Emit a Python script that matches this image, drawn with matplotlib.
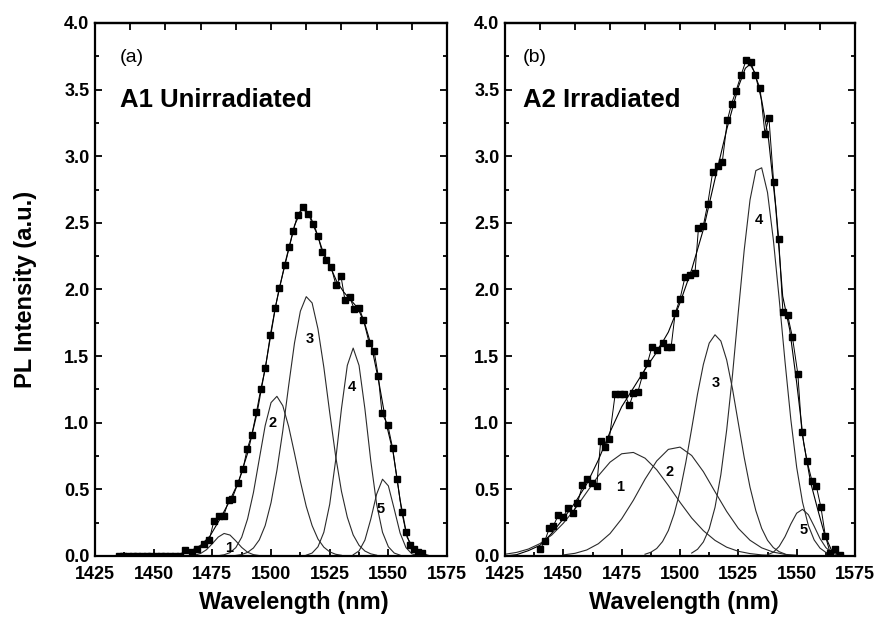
import numpy as np
import matplotlib
matplotlib.use("Agg")
import matplotlib.pyplot as plt
from matplotlib.ticker import MultipleLocator, FormatStrFormatter

plt.rcParams['font.family'] = ['Liberation Sans', 'DejaVu Sans']
plt.rcParams['font.weight'] = 'bold'

# ---------------- panel (a): A1 unirradiated ----------------
wl_a = [1435, 1437, 1439, 1441, 1443, 1445, 1447, 1449, 1451, 1453, 1455, 1457, 1459, 1461,
        1463.3, 1466.2, 1468.3, 1471.6, 1473.7, 1475.6, 1478.0, 1479.8, 1482.0, 1483.4,
        1486.0, 1488.0, 1489.8, 1491.8, 1493.8, 1495.6, 1497.6, 1499.7, 1501.8, 1503.5,
        1505.9, 1507.8, 1509.5, 1511.3, 1513.8, 1515.9, 1517.7, 1520.0, 1521.8, 1523.5,
        1525.6, 1527.7, 1529.8, 1531.5, 1533.6, 1535.5, 1537.6, 1539.4, 1541.8, 1543.9,
        1545.7, 1547.3, 1549.8, 1551.8, 1553.7, 1555.7, 1557.5, 1559.3, 1561.0, 1562.5, 1564.5]
pl_a = [0, 0, 0, 0, 0, 0, 0, 0, 0, 0, 0, 0, 0, 0,
        0.045, 0.03, 0.05, 0.09, 0.12, 0.26, 0.30, 0.30, 0.42, 0.43,
        0.55, 0.65, 0.80, 0.91, 1.08, 1.25, 1.41, 1.66, 1.86, 2.01,
        2.18, 2.32, 2.44, 2.56, 2.62, 2.57, 2.49, 2.40, 2.28, 2.22,
        2.17, 2.03, 2.10, 1.92, 1.94, 1.85, 1.86, 1.77, 1.60, 1.54,
        1.35, 1.07, 0.98, 0.81, 0.58, 0.33, 0.18, 0.08, 0.05, 0.03, 0.02]

fit_wl_a = [1425, 1455, 1462, 1466, 1470, 1474, 1478, 1482, 1486, 1490, 1494, 1498, 1502,
            1506, 1510, 1513, 1516, 1519, 1522, 1525, 1528, 1531, 1534, 1537, 1540, 1543,
            1546, 1549, 1552, 1555, 1558, 1561, 1564, 1568, 1575]
fit_a = [0, 0, 0.02, 0.04, 0.08, 0.15, 0.27, 0.40, 0.55, 0.77, 1.07, 1.46, 1.88,
         2.20, 2.48, 2.60, 2.58, 2.45, 2.29, 2.18, 2.06, 1.98, 1.92, 1.86, 1.74, 1.56,
         1.30, 1.00, 0.78, 0.42, 0.14, 0.05, 0.02, 0.0, 0.0]

# fitted components, values every `step` nm starting at `start`
comp_a1 = [0.0, 0.006, 0.019, 0.047, 0.093, 0.142, 0.169, 0.157, 0.113, 0.064, 0.028, 0.010, 0.003, 0.0]
comp_a2 = [0.002, 0.009, 0.025, 0.063, 0.141, 0.278, 0.476, 0.728, 0.978, 1.151, 1.198,
           1.128, 0.972, 0.77, 0.56, 0.372, 0.228, 0.127, 0.066, 0.031, 0.013, 0.005]
comp_a3 = [0.004, 0.011, 0.027, 0.06, 0.121, 0.228, 0.40, 0.642, 0.938, 1.277, 1.599, 1.837,
           1.946, 1.899, 1.704, 1.416, 1.076, 0.753, 0.486, 0.291, 0.158, 0.08, 0.037, 0.016, 0.006]
comp_a4 = [0.006, 0.022, 0.069, 0.178, 0.388, 0.714, 1.104, 1.43, 1.56, 1.43, 1.104, 0.714,
           0.388, 0.178, 0.069, 0.022, 0.006]
comp_a5 = [0.009, 0.038, 0.119, 0.276, 0.464, 0.576, 0.526, 0.352, 0.172, 0.063, 0.016, 0.003]
comps_a = [(1465, 2.5, comp_a1), (1477.5, 2.5, comp_a2), (1485, 2.5, comp_a3),
           (1515, 2.5, comp_a4), (1535, 2.5, comp_a5)]
lab_x_a = [1482.1, 1500.5, 1516.3, 1534.3, 1546.7]
lab_y_a = [0.06, 1.0, 1.63, 1.27, 0.35]

# ---------------- panel (b): A2 irradiated ----------------
wl_b = [1440.0, 1442.1, 1444.0, 1445.7, 1447.9, 1450.0, 1452.1, 1454.0, 1456.0, 1458.2,
        1460.3, 1462.3, 1464.3, 1466.0, 1467.9, 1469.7, 1472.2, 1474.3, 1476.2, 1478.3,
        1480.0, 1481.9, 1484.0, 1486.0, 1487.9, 1490.0, 1492.5, 1494.3, 1496.2, 1497.9,
        1500.0, 1502.1, 1504.3, 1506.4, 1507.9, 1510.0, 1511.9, 1514.0, 1516.2, 1518.1,
        1520.3, 1522.1, 1524.0, 1526.2, 1528.3, 1530.4, 1532.1, 1534.3, 1536.4, 1538.1,
        1540.1, 1542.3, 1544.1, 1546.1, 1548.2, 1550.5, 1552.2, 1554.4, 1556.6, 1558.4,
        1560.4, 1562.3, 1564.3, 1566.4, 1568.6]
pl_b = [0.05, 0.115, 0.21, 0.225, 0.31, 0.295, 0.36, 0.32, 0.395, 0.53,
        0.58, 0.545, 0.525, 0.86, 0.82, 0.88, 1.215, 1.215, 1.215, 1.13,
        1.22, 1.23, 1.36, 1.445, 1.565, 1.545, 1.60, 1.57, 1.57, 1.82,
        1.93, 2.09, 2.105, 2.12, 2.46, 2.48, 2.645, 2.88, 2.925, 2.955,
        3.27, 3.395, 3.49, 3.61, 3.72, 3.705, 3.61, 3.51, 3.17, 3.29,
        2.81, 2.38, 1.83, 1.81, 1.64, 1.365, 0.93, 0.715, 0.56, 0.525,
        0.365, 0.15, 0.025, 0.05, 0.01]

fit_wl_b = [1425, 1430, 1435, 1440, 1445, 1450, 1455, 1460, 1465, 1470, 1475, 1480, 1485,
            1490, 1495, 1500, 1505, 1510, 1515, 1520, 1525, 1528, 1530, 1532, 1535, 1538,
            1541, 1544, 1547, 1550, 1553, 1556, 1559, 1562, 1565, 1568, 1572]
fit_b = [0.0, 0.01, 0.04, 0.08, 0.17, 0.28, 0.40, 0.54, 0.72, 0.93, 1.12, 1.26, 1.40,
         1.53, 1.68, 1.90, 2.15, 2.45, 2.83, 3.20, 3.52, 3.66, 3.69, 3.63, 3.42, 3.12,
         2.62, 1.95, 1.70, 1.30, 0.85, 0.55, 0.35, 0.16, 0.04, 0.01, 0.0]

comp_b1 = [0.013, 0.027, 0.052, 0.093, 0.157, 0.246, 0.353, 0.478, 0.602, 0.704, 0.767,
           0.777, 0.734, 0.647, 0.529, 0.403, 0.285, 0.19, 0.117, 0.066, 0.035, 0.018,
           0.008, 0.004]
comp_b2 = [0.008, 0.02, 0.045, 0.092, 0.168, 0.279, 0.418, 0.576, 0.713, 0.80, 0.817, 0.754,
           0.633, 0.482, 0.334, 0.207, 0.118, 0.061, 0.029, 0.012, 0.006]
comp_b3 = [0.013, 0.028, 0.056, 0.108, 0.191, 0.317, 0.485, 0.704, 0.956, 1.215, 1.437,
           1.597, 1.66, 1.613, 1.471, 1.253, 0.996, 0.74, 0.516, 0.34, 0.207, 0.118, 0.063,
           0.032, 0.015]
comp_b4 = [0.022, 0.05, 0.105, 0.203, 0.365, 0.61, 0.946, 1.36, 1.834, 2.294, 2.672, 2.892,
           2.913, 2.728, 2.373, 1.93, 1.459, 1.023, 0.665, 0.404, 0.229, 0.12, 0.059, 0.027, 0.011]
comp_b5 = [0.009, 0.028, 0.072, 0.145, 0.24, 0.321, 0.35, 0.31, 0.223, 0.131, 0.063, 0.024, 0.008]
comps_b = [(1425, 5, comp_b1), (1450, 5, comp_b2), (1485, 2.5, comp_b3),
           (1505, 2.5, comp_b4), (1537.5, 2.5, comp_b5)]
lab_x_b = [1474.3, 1495.4, 1515.4, 1534.0, 1553.2]
lab_y_b = [0.52, 0.63, 1.30, 2.52, 0.195]

comp_names = ['1', '2', '3', '4', '5']
top_ticks = [1440, 1455, 1470, 1485, 1500, 1515, 1530, 1545, 1560]


def draw_panel(ax, wl, pl, fit_wl, fit, comps, lab_x, lab_y, tag, tag_x, title, xlab_x):
    for x0, step, vals in comps:
        xs = x0 + step * np.arange(len(vals))
        ax.plot(xs, vals, color='#2a2a2a', lw=0.8)
    ax.plot(fit_wl, fit, color='black', lw=0.8)
    ax.plot(wl, pl, color='black', lw=0.7, marker='s', ms=4.5,
            mfc='black', mec='black')
    for name, x, y in zip(comp_names, lab_x, lab_y):
        ax.text(x, y, name, ha='center', va='center', fontsize=10.5, fontweight='bold')
    ax.text(tag_x, 0.936, tag, transform=ax.transAxes, fontsize=14,
            fontweight='normal', va='center')
    ax.text(tag_x, 0.855, title, transform=ax.transAxes, fontsize=18.5,
            fontweight='bold', va='center')

    ax.set_xlim(1425, 1575)
    ax.set_ylim(0, 4.0)
    ax.xaxis.set_major_locator(MultipleLocator(25))
    ax.xaxis.set_minor_locator(MultipleLocator(12.5))
    ax.yaxis.set_major_locator(MultipleLocator(0.5))
    ax.yaxis.set_minor_locator(MultipleLocator(0.25))
    ax.yaxis.set_major_formatter(FormatStrFormatter('%.1f'))
    ax.tick_params(which='both', direction='in', top=False, right=True,
                   width=1.3, labelsize=13)
    ax.tick_params(which='major', length=5)
    ax.tick_params(which='minor', length=3)
    ax.tick_params(axis='x', which='major', pad=7)
    ax.tick_params(axis='y', which='major', pad=4)
    for sp in ax.spines.values():
        sp.set_linewidth(1.6)

    sec = ax.secondary_xaxis('top')
    sec.set_xticks(top_ticks)
    sec.tick_params(direction='in', length=5, width=1.3, labeltop=False)
    sec.spines['top'].set_linewidth(1.6)

    ax.set_xlabel('Wavelength (nm)', fontsize=17, fontweight='bold', labelpad=6, x=xlab_x)


fig = plt.figure(figsize=(8.8, 6.17), dpi=100)
ax_a = fig.add_axes([0.108, 0.0989, 0.400, 0.8639])
ax_b = fig.add_axes([0.5739, 0.0989, 0.3977, 0.8639])

draw_panel(ax_a, wl_a, pl_a, fit_wl_a, fit_a, comps_a, lab_x_a, lab_y_a,
           '(a)', 0.071, 'A1 Unirradiated', 0.565)
draw_panel(ax_b, wl_b, pl_b, fit_wl_b, fit_b, comps_b, lab_x_b, lab_y_b,
           '(b)', 0.051, 'A2 Irradiated', 0.51)

ax_a.set_ylabel('PL Intensity (a.u.)', fontsize=17, fontweight='bold')
ax_a.yaxis.set_label_coords(-0.165, 0.5)

fig.savefig('out.png', dpi=100)
